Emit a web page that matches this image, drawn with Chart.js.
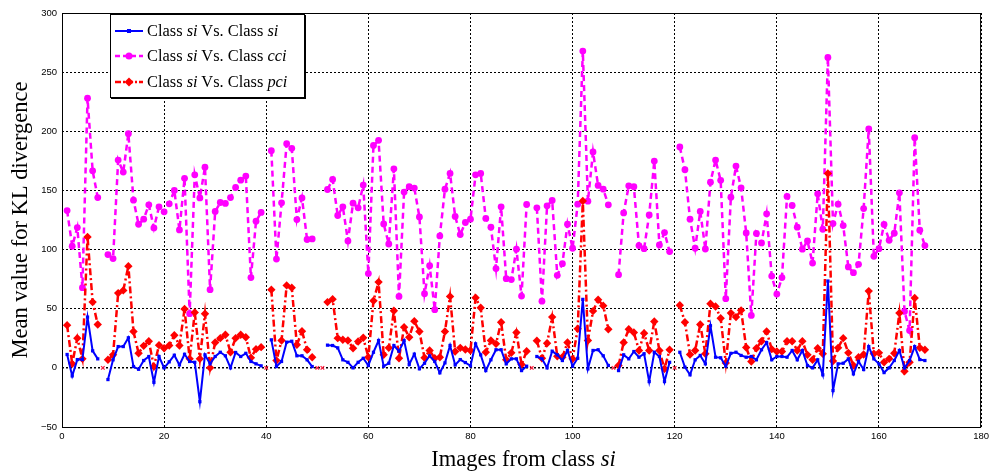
<!DOCTYPE html>
<html>
<head>
<meta charset="utf-8">
<script src="https://cdn.jsdelivr.net/npm/chart.js@4.4.1/dist/chart.umd.min.js"></script>
<style>
  html, body { margin: 0; padding: 0; background: #fff; }
  #wrap { position: relative; width: 993px; height: 473px; }
  #legend {
    position: absolute; left: 110px; top: 14px; width: 193px; height: 82px;
    background: #fff; border: 1px solid #000; box-shadow: 1px 1px 0 #000;
    font-family: "Liberation Serif", "Times New Roman", serif; font-size: 16.4px; color: #000;
  }
  #legend .row { position: absolute; left: 3px; height: 20px; display: flex; align-items: center; white-space: nowrap; }
  #legend svg { margin-right: 3px; }
  #xtitle {
    position: absolute; left: 62px; width: 923px; top: 446px; text-align: center;
    font-family: "Liberation Serif", "Times New Roman", serif; font-size: 22.5px; line-height: 26px; color: #000;
  }
</style>
</head>
<body>
<div id="wrap">
  <canvas id="chart" width="993" height="473"></canvas>
  <div id="legend">
    <div class="row" style="top:6px">
      <svg width="30" height="12"><line x1="1" y1="6" x2="29" y2="6" stroke="#0000ff" stroke-width="2"/><rect x="13" y="4" width="4" height="4" fill="#0000ff"/></svg>
      <span>Class <i>si</i> Vs. Class <i>si</i></span>
    </div>
    <div class="row" style="top:31px">
      <svg width="30" height="12"><line x1="1" y1="6" x2="29" y2="6" stroke="#ff00ff" stroke-width="2.5" stroke-dasharray="5,3"/><circle cx="15" cy="6" r="3.5" fill="#ff00ff"/></svg>
      <span>Class <i>si</i> Vs. Class <i>cci</i></span>
    </div>
    <div class="row" style="top:57px">
      <svg width="30" height="12"><line x1="1" y1="6" x2="29" y2="6" stroke="#ff0000" stroke-width="2.5" stroke-dasharray="6,2,2,2"/><polygon points="15,1.5 19.5,6 15,10.5 10.5,6" fill="#ff0000"/></svg>
      <span>Class <i>si</i> Vs. Class <i>pci</i></span>
    </div>
  </div>
  <div id="xtitle">Images from class <i>si</i></div>
</div>
<script>
// values for images 1..169 (null = no value for that image)
const siVsSi = [
  11.3, -6.8, 7, 7, 42.9, 14.4, 7.6, null, -9.9, 6.8,
  18, 18, 25.4, 1.1, -1.2, 6.2, 9.6, -12.2, 9.6, 0,
  5.1, 10.7, 2.5, 11.5, 5.4, 4.7, -28.6, 11, 3.4, 9.6,
  13.2, 10.2, 0, 13, 9.6, 12.3, 5.4, 3.4, 1.7, null,
  23.7, 1.1, 5.4, 21.7, 22.5, 10.2, 10.2, 6.8, 1.1, null,
  null, 19.2, 18.9, 16.9, 6.8, 4.7, 0, 4.7, 8.1, 2,
  13.2, 23.1, 1.4, 3.9, 18.9, 14.1, 23.1, 2.8, 11.6, -0.8,
  3.9, 10.2, 5.4, -4.2, 4.2, 18.9, 2.5, 7, 4.5, 1.7,
  20.3, 11, -2.3, 6.8, 15.3, 15.3, 3.4, 7.6, 7.6, -2.3,
  1.4, null, 9.6, 7.6, 0, 14.1, 11, 6.2, 14.7, 1.4,
  8.1, 57.9, -0.8, 14.7, 15.3, 10.2, 2, null, -2.3, 11,
  7.6, 13.8, 9, 11.9, -11.6, 13.2, 9.6, -11.6, 4.7, null,
  13.2, 0.6, -5.9, 6.8, 10.5, 3.4, 35.6, 9, 8.5, 1.4,
  12.3, 13.2, 10.5, 9, 9.6, 6.8, 15.3, 21.4, 6.8, 9.6,
  9.6, 9, 14.7, 6.8, 14.7, 2, 0, 6.8, -5.9, 73.4,
  -19.2, 3.4, 3.9, 7.6, -5.1, 5.4, -1.4, 18, 7.6, 3.4,
  -4, 0, 6.2, 14.7, 0, 6.2, 18, 7, 6.2
];

const siVsCci = [
  133, 102.8, 118.6, 67.8, 228, 166.6, 144, null, 95.8, 92.4,
  175.7, 165.5, 198, 141.8, 121.4, 125.7, 137.8, 118.3, 136.1, 131.9,
  138.7, 150, 116.6, 160.2, 45.8, 163.2, 143.7, 169.7, 66.1, 132.2,
  139.8, 139, 144, 152.5, 158.7, 162.1, 76.3, 124, 131.4, null,
  183.6, 92, 139.5, 189.5, 185.6, 125.4, 143.7, 108.5, 109, null,
  null, 150.8, 159.3, 128.8, 136.1, 107.3, 139.2, 135.3, 154.5, 79.7,
  188, 192.4, 121.7, 104.7, 168.3, 60.4, 148.6, 153.1, 152, 127.6,
  62.7, 86.4, 49.2, 111.5, 151.1, 164.4, 128, 112.7, 122.9, 125.7,
  163.2, 164.4, 126.3, 118.9, 83.9, 136.1, 75.4, 74.6, 100.3, 60.7,
  138.2, null, 135.3, 56.4, 137, 141.5, 78.2, 88.1, 121.4, 101.1,
  138.4, 267.8, 140.9, 182.5, 154.2, 151.1, 137.8, null, 78.8, 131,
  153.9, 153.1, 103.4, 100.8, 129.3, 174.8, 103.9, 114.4, 98.3, null,
  186.7, 167.5, 125.7, 101.1, 132.2, 100.5, 157, 175.7, 158.5, 58.5,
  144.3, 170.6, 152.2, 114.1, 44.3, 113.6, 105.6, 130.2, 77.6, 62.4,
  76.3, 144.9, 137.3, 118.9, 100.3, 107.3, 88.6, 147.1, 117.2, 262.4,
  122, 138.4, 120.3, 85.3, 80.5, 87.5, 134.7, 202, 94.3, 100.8,
  121.2, 107.9, 113.8, 148, 47.7, 31.6, 194.6, 116.4, 103.4
];

const siVsPci = [
  36.1, 3.4, 25.1, 7.6, 110.7, 55.6, 36.7, null, 6.8, 11,
  63.2, 65.5, 86, 30.8, 12.4, 18.6, 22.5, 1.1, 19.2, 16.6,
  18.9, 27.6, 18.9, 49.7, 7.6, 46.9, 7.6, 45.8, 0, 21.5,
  25.1, 28, 13.2, 25.1, 28, 25.9, 8.5, 15.8, 17.5, null,
  66.1, 6.2, 23.1, 69.7, 67.8, 19.5, 31, 15.3, 9, null,
  null, 55.6, 58.1, 25.1, 23.7, 23.1, 16.6, 22.3, 25.4, 9,
  56.7, 72.5, 11, 16.9, 48.3, 8.1, 34.4, 25.9, 39.5, 30.8,
  8.5, 14.7, 8.1, 9, 30.8, 60.4, 13.8, 16.9, 15.5, 14.7,
  59.3, 50.8, 13.2, 23.1, 20.3, 38.6, 6.8, 12.7, 29.9, 2.9,
  14.1, null, 22.9, 8.1, 20.8, 42.9, 9.8, 9, 21.4, 7.6,
  33, 141, 23.1, 48, 57.6, 52.5, 32.7, null, 2, 21.4,
  32.7, 29.9, 14.7, 29.3, 14.7, 39.2, 14.7, -0.8, 15.3, null,
  52.9, 38.6, 11.3, 14.7, 36.7, 11.9, 54.2, 51.9, 42, 4.2,
  46.3, 42.9, 48.6, 17.2, 5.3, 16.6, 22.5, 30.8, 15.8, 13.8,
  13.8, 22.5, 22.5, 14.7, 22.5, 11, 6.8, 16.6, 11.9, 164.4,
  5.8, 16.9, 25.1, 12.7, 2, 9, 11.3, 64.9, 11.9, 12.7,
  4.7, 7.6, 12.3, 46.3, -2.9, 4.7, 59, 16.9, 15.3
];

// images with no value, marked with a small cross on the zero line
const missingImages = [8, 40, 50, 51, 92, 108, 120];

const xTicks = [0, 20, 40, 60, 80, 100, 120, 140, 160, 180];
const yTicks = [-50, 0, 50, 100, 150, 200, 250, 300];

const toPoints = (values) => values.map((v, i) => ({ x: i + 1, y: v }));

const frame = {
  id: 'frame',
  afterDatasetsDraw(chart) {
    const { ctx, chartArea: a } = chart;
    ctx.save();
    ctx.strokeStyle = '#000';
    ctx.lineWidth = 1;
    ctx.setLineDash([]);
    ctx.strokeRect(a.left + 0.5, a.top + 0.5, a.right - a.left - 1, a.bottom - a.top);
    ctx.restore();
  }
};

const tickFont = { family: '"Liberation Sans", Arial, sans-serif', size: 9.5 };

new Chart(document.getElementById('chart'), {
  type: 'line',
  data: {
    datasets: [
      {
        label: 'Class si Vs. Class si',
        data: toPoints(siVsSi),
        borderColor: '#0000ff',
        backgroundColor: '#0000ff',
        borderWidth: 2,
        pointStyle: 'rect',
        pointRadius: 2.3,
        pointBorderWidth: 0
      },
      {
        label: 'Class si Vs. Class pci',
        data: toPoints(siVsPci),
        borderColor: '#ff0000',
        backgroundColor: '#ff0000',
        borderWidth: 2.5,
        borderDash: [7, 3, 2, 3],
        pointStyle: 'rectRot',
        pointRadius: 4.2,
        pointBorderWidth: 0
      },
      {
        label: 'Class si Vs. Class cci',
        data: toPoints(siVsCci),
        borderColor: '#ff00ff',
        backgroundColor: '#ff00ff',
        borderWidth: 2.5,
        borderDash: [6, 4],
        pointStyle: 'circle',
        pointRadius: 3.4,
        pointBorderWidth: 0
      },
      {
        type: 'scatter',
        label: 'missing',
        data: missingImages.map(x => ({ x: x, y: 0 })),
        showLine: false,
        borderColor: '#ff2040',
        pointStyle: 'crossRot',
        pointRadius: 2.5,
        pointBorderWidth: 1.3
      }
    ]
  },
  options: {
    responsive: false,
    animation: false,
    devicePixelRatio: 1,
    layout: { padding: { top: 13, right: 8, left: 0, bottom: 0 } },
    plugins: {
      legend: { display: false },
      tooltip: { enabled: false }
    },
    scales: {
      x: {
        type: 'linear',
        min: 0,
        max: 180,
        afterBuildTicks: (scale) => { scale.ticks = xTicks.map(v => ({ value: v })); },
        afterFit: (scale) => { scale.height = 46; },
        ticks: { font: tickFont, color: '#000', padding: 4, maxRotation: 0 },
        grid: { color: '#000', lineWidth: 1, drawTicks: false },
        border: { display: false, dash: [2, 2] }
      },
      y: {
        min: -50,
        max: 300,
        afterBuildTicks: (scale) => { scale.ticks = yTicks.map(v => ({ value: v })); },
        afterFit: (scale) => { scale.width = 62; },
        ticks: {
          font: tickFont,
          color: '#000',
          padding: 5,
          callback: (v) => String(v).replace('-', '\u2212')
        },
        grid: {
          color: '#000',
          lineWidth: (c) => (c.tick && c.tick.value === 0 ? 1.5 : 1),
          drawTicks: false
        },
        border: { display: false, dash: [2, 2] },
        title: {
          display: true,
          text: 'Mean value for KL divergence',
          color: '#000',
          font: { family: '"Liberation Serif", "Times New Roman", serif', size: 22.5, lineHeight: 1.2 },
          padding: { top: 8, bottom: 0 }
        }
      }
    }
  },
  plugins: [frame]
});
</script>
</body>
</html>
